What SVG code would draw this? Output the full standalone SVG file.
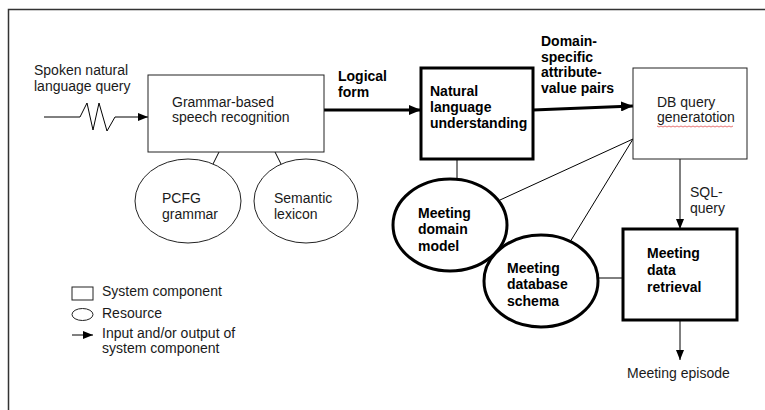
<svg xmlns="http://www.w3.org/2000/svg" width="765" height="410" viewBox="0 0 765 410">
  <defs>
    <marker id="tip" markerUnits="userSpaceOnUse" markerWidth="12" markerHeight="10" viewBox="0 0 12 10" refX="12" refY="5" orient="auto">
      <path d="M0,0 L12,5 L0,10 Z" fill="#000"/>
    </marker>
    <marker id="tipS" markerUnits="userSpaceOnUse" markerWidth="10" markerHeight="8" viewBox="0 0 10 8" refX="10" refY="4" orient="auto">
      <path d="M0,0 L10,4 L0,8 Z" fill="#000"/>
    </marker>
  </defs>
  <style>
    text { font-family: "Liberation Sans", Arial, sans-serif; font-size: 14px; fill: #1a1a1a; }
    .b { font-weight: bold; fill: #000; }
    .thin { fill: #fff; stroke: #222; stroke-width: 1; }
    .thick { fill: #fff; stroke: #000; stroke-width: 3; }
    .ln { fill: none; stroke: #000; stroke-width: 1; }
    .arr { fill: none; stroke: #000; stroke-width: 1; marker-end: url(#tipS); }
    .arrT { fill: none; stroke: #000; stroke-width: 3; marker-end: url(#tip); }
  </style>
  <rect width="765" height="410" fill="#fff"/>
  <!-- frame -->
  <path d="M8.5,410 V9.5 H765" fill="none" stroke="#333" stroke-width="1.5"/>

  <!-- connectors -->
  <g id="connectors">
    <polyline class="arr" points="44,117 80,117 87,103 93,130 99,103 107,131 115,117 148,117"/>
    <line class="ln" x1="219" y1="152" x2="212" y2="166"/>
    <line class="ln" x1="275" y1="152" x2="282" y2="166"/>
    <line class="arrT" x1="324" y1="110" x2="421" y2="110"/>
    <line class="arrT" x1="533" y1="110" x2="633" y2="106"/>
    <line class="ln" x1="457" y1="159" x2="457" y2="179"/>
    <line class="ln" x1="633" y1="139" x2="500" y2="200"/>
    <line class="ln" x1="633" y1="139" x2="570" y2="242"/>
    <line class="ln" x1="598" y1="278" x2="623" y2="278"/>
    <line class="arr" x1="680" y1="159" x2="680" y2="229"/>
    <line class="arr" x1="680" y1="320" x2="680" y2="360"/>
  </g>

  <!-- edge labels -->
  <text x="34" y="75">Spoken natural</text>
  <text x="34" y="91">language query</text>
  <text class="b" x="338" y="81">Logical</text>
  <text class="b" x="338" y="97">form</text>
  <text class="b" x="541" y="46">Domain-</text>
  <text class="b" x="541" y="62">specific</text>
  <text class="b" x="541" y="77">attribute-</text>
  <text class="b" x="541" y="93">value pairs</text>
  <text x="690" y="197">SQL-</text>
  <text x="690" y="213">query</text>
  <text x="627" y="378">Meeting episode</text>

  <g id="speech-recognition">
    <rect class="thin" x="148" y="75" width="176" height="77"/>
    <text x="172" y="107">Grammar-based</text>
    <text x="172" y="122">speech recognition</text>
  </g>
  <g id="pcfg-grammar">
    <ellipse class="thin" cx="188" cy="201" rx="53" ry="42"/>
    <text x="162" y="203">PCFG</text>
    <text x="162" y="219">grammar</text>
  </g>
  <g id="semantic-lexicon">
    <ellipse class="thin" cx="306" cy="201" rx="52" ry="42"/>
    <text x="274" y="203">Semantic</text>
    <text x="274" y="219">lexicon</text>
  </g>
  <g id="nlu">
    <rect class="thick" x="421" y="68" width="112" height="91"/>
    <text class="b" x="430" y="96">Natural</text>
    <text class="b" x="430" y="112">language</text>
    <text class="b" x="430" y="128">understanding</text>
  </g>
  <g id="db-query">
    <rect class="thin" x="633" y="68" width="114" height="91"/>
    <text x="657" y="107">DB query</text>
    <text x="657" y="122">generatotion</text>
    <path d="M657,126 l2,1 l2,-1 l2,1 l2,-1 l2,1 l2,-1 l2,1 l2,-1 l2,1 l2,-1 l2,1 l2,-1 l2,1 l2,-1 l2,1 l2,-1 l2,1 l2,-1 l2,1 l2,-1 l2,1 l2,-1 l2,1 l2,-1 l2,1 l2,-1 l2,1 l2,-1 l2,1 l2,-1 l2,1 l2,-1 l2,1 l2,-1 l2,1 l2,-1 l2,1 l2,-1" fill="none" stroke="#e05050" stroke-width="0.8"/>
  </g>
  <g id="domain-model">
    <ellipse class="thick" cx="450" cy="225" rx="57" ry="46"/>
    <text class="b" x="418" y="218">Meeting</text>
    <text class="b" x="418" y="234">domain</text>
    <text class="b" x="418" y="251">model</text>
  </g>
  <g id="database-schema">
    <ellipse class="thick" cx="541" cy="281" rx="57" ry="46"/>
    <text class="b" x="507" y="273">Meeting</text>
    <text class="b" x="507" y="289">database</text>
    <text class="b" x="507" y="306">schema</text>
  </g>
  <g id="data-retrieval">
    <rect class="thick" x="623" y="229" width="114" height="91"/>
    <text class="b" x="647" y="258">Meeting</text>
    <text class="b" x="647" y="275">data</text>
    <text class="b" x="647" y="292">retrieval</text>
  </g>

  <g id="legend">
    <rect class="thin" x="72" y="287" width="21" height="13"/>
    <text x="102" y="296">System component</text>
    <ellipse class="thin" cx="82.5" cy="314.5" rx="10.5" ry="6"/>
    <text x="102" y="318">Resource</text>
    <line class="arr" x1="72" y1="335" x2="93" y2="335"/>
    <text x="102" y="338">Input and/or output of</text>
    <text x="102" y="353">system component</text>
  </g>
</svg>
